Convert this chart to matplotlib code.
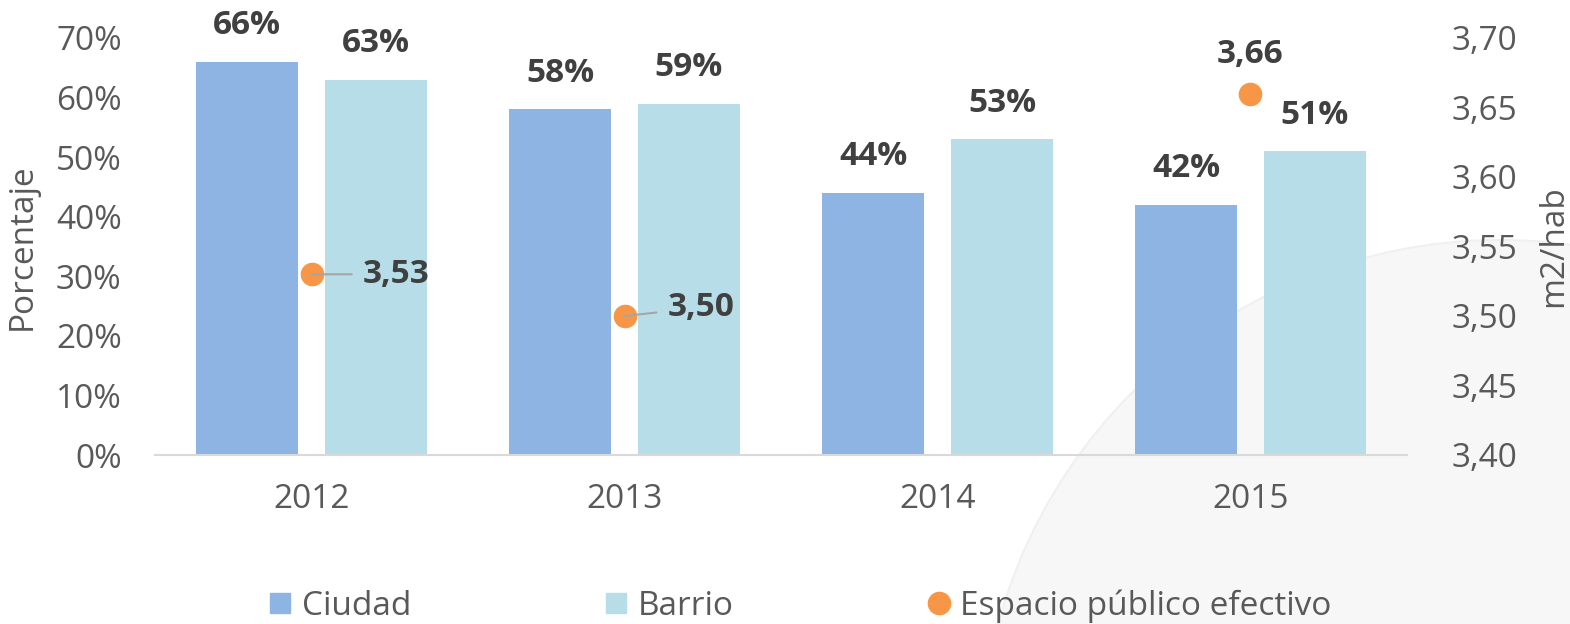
import matplotlib.pyplot as plt
from matplotlib.patches import Ellipse
from matplotlib.lines import Line2D

years = ['2012', '2013', '2014', '2015']
ciudad = [66, 58, 44, 42]
barrio = [63, 59, 53, 51]
# espacio público efectivo (m2/hab), sin dato para 2014
ep_years = [0, 1, 3]
ep_values = [3.53, 3.50, 3.66]
ep_labels = ['3,53', '3,50', '3,66']

c_ciudad = '#8EB4E3'
c_barrio = '#B7DEE8'
c_ep = '#F79646'
c_text = '#595959'
c_lab = '#404040'
fs = 24

plt.rcParams['font.family'] = ['Open Sans', 'DejaVu Sans']

W, H = 1570, 624
fig = plt.figure(figsize=(W / 100, H / 100), dpi=100)

# marca de agua gris claro abajo a la derecha (detrás de los ejes)
r = 520
fig.patches.append(Ellipse((1500 / W, 1 - 760 / H), 2 * r / W, 2 * r / H,
                           transform=fig.transFigure, facecolor='#F7F7F7',
                           edgecolor='#F0F0F0', lw=1.5, zorder=-1))

ax = fig.add_axes([155 / W, 1 - 455 / H, (1407 - 155) / W, (455 - 38) / H])
ax.set_facecolor('none')
ax2 = ax.twinx()

x = list(range(len(years)))
w = 0.327
off = 0.206
b1 = ax.bar([i - off for i in x], ciudad, w, color=c_ciudad, zorder=2)
b2 = ax.bar([i + off for i in x], barrio, w, color=c_barrio, zorder=2)

for bars, vals in ((b1, ciudad), (b2, barrio)):
    for rect, v in zip(bars, vals):
        ax.annotate(f'{v}%', (rect.get_x() + rect.get_width() / 2, v), xytext=(0, 26),
                    textcoords='offset points', ha='center', va='center',
                    fontsize=fs, fontweight='bold', color=c_lab)

ax.set_xlim(-0.5, 3.5)
ax.set_ylim(0, 70)
ax.set_yticks(range(0, 71, 10))
ax.set_yticklabels([f'{t}%' for t in range(0, 71, 10)])
ax.set_xticks(x)
ax.set_xticklabels(years)
ax.tick_params(axis='y', length=0, pad=24, labelsize=fs, labelcolor=c_text)
ax.tick_params(axis='x', length=0, pad=20, labelsize=fs, labelcolor=c_text)
ax.set_ylabel('Porcentaje', fontsize=fs, color=c_text, labelpad=12)
for s in ['top', 'right', 'left']:
    ax.spines[s].set_visible(False)
ax.spines['bottom'].set_color('#D9D9D9')
ax.spines['bottom'].set_linewidth(1.5)

ax2.plot(ep_years, ep_values, 'o', color=c_ep, markersize=16, zorder=3)
ax2.set_ylim(3.40, 3.70)
ax2.set_yticks([3.40, 3.45, 3.50, 3.55, 3.60, 3.65, 3.70])
ax2.set_yticklabels(['3,40', '3,45', '3,50', '3,55', '3,60', '3,65', '3,70'])
ax2.tick_params(axis='y', length=0, pad=32, labelsize=fs, labelcolor=c_text)
ax2.set_ylabel('m2/hab', fontsize=fs, color=c_text, labelpad=14)
for s in ax2.spines.values():
    s.set_visible(False)

lead = dict(arrowstyle='-', color='#A6A6A6', lw=1.5, shrinkA=6, shrinkB=0)
ax2.annotate(ep_labels[0], (ep_years[0], ep_values[0]), xytext=(37, 0),
             textcoords='offset points', ha='left', va='center', fontsize=fs,
             fontweight='bold', color=c_lab, arrowprops=lead)
ax2.annotate(ep_labels[1], (ep_years[1], ep_values[1]), xytext=(31, 6),
             textcoords='offset points', ha='left', va='center', fontsize=fs,
             fontweight='bold', color=c_lab, arrowprops=lead)
ax2.annotate(ep_labels[2], (ep_years[2], ep_values[2]), xytext=(0, 28),
             textcoords='offset points', ha='center', va='center', fontsize=fs,
             fontweight='bold', color=c_lab)

handles = [
    Line2D([], [], marker='s', ls='none', color=c_ciudad, markersize=15),
    Line2D([], [], marker='s', ls='none', color=c_barrio, markersize=15),
    Line2D([], [], marker='o', ls='none', color=c_ep, markersize=16),
]
leg = fig.legend(handles, ['Ciudad', 'Barrio', 'Espacio público efectivo'],
                 loc='center', bbox_to_anchor=(800 / W, 1 - 606 / H), ncol=3,
                 frameon=False, fontsize=fs, columnspacing=5.8, handlelength=0.7,
                 handletextpad=0.3, borderaxespad=0)
for t in leg.get_texts():
    t.set_color(c_text)

fig.savefig('out.png', dpi=100)
